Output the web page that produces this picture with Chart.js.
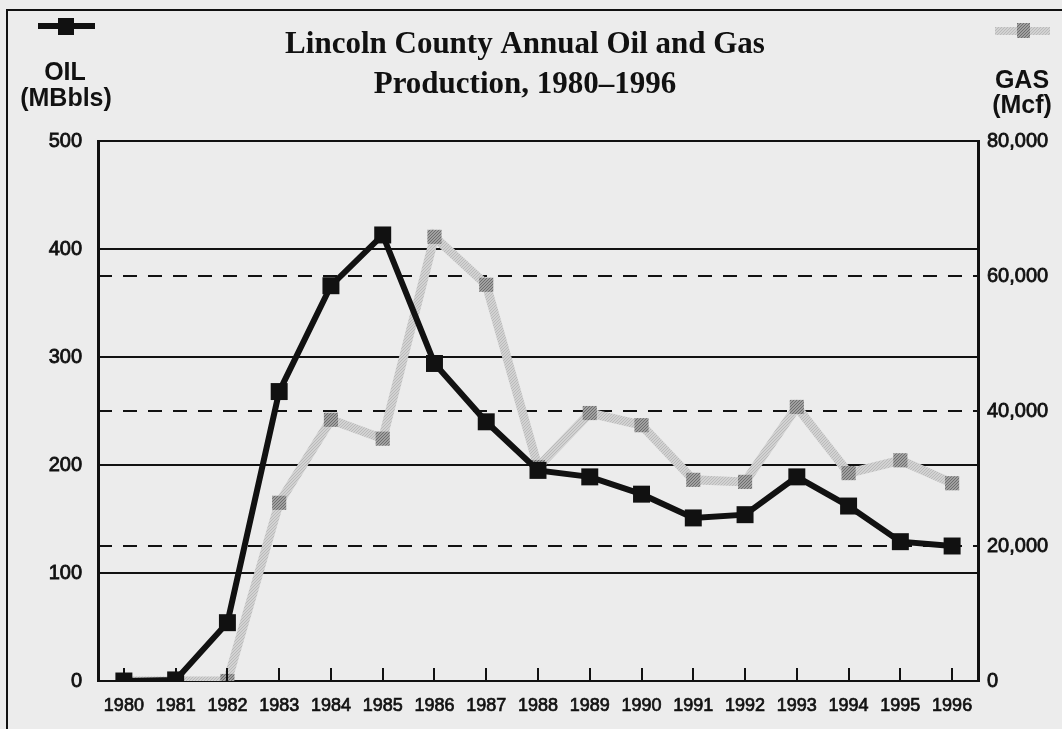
<!DOCTYPE html>
<html>
<head>
<meta charset="utf-8">
<script src="https://cdn.jsdelivr.net/npm/chart.js@4.4.1/dist/chart.umd.min.js"></script>
<style>
  html, body { margin: 0; padding: 0; background: #ececec; }
  #wrap { position: relative; width: 1062px; height: 729px; }
</style>
</head>
<body>
<div id="wrap"><canvas id="myChart" width="1062" height="729"></canvas></div>
<script>
// data
var years = ['1980','1981','1982','1983','1984','1985','1986','1987','1988',
             '1989','1990','1991','1992','1993','1994','1995','1996'];
var oilMBbls = [0, 1, 54, 268, 366, 413, 294, 240, 195, 189, 173, 151, 154, 189, 162, 129, 125];
var gasMcf = [0, 0, 0, 26400, 38700, 35900, 65800, 58700, 31700, 39700, 37900, 29800, 29500, 40600, 30800, 32700, 29300];
var oilTicks = [0, 100, 200, 300, 400, 500];
var gasTicks = [0, 20000, 40000, 60000, 80000];

var titleLines = ['Lincoln County Annual Oil and Gas', 'Production, 1980\u20131996'];

function hatch(bg, fg, size) {
    var c = document.createElement('canvas');
    c.width = size; c.height = size;
    var g = c.getContext('2d');
    g.fillStyle = bg;
    g.fillRect(0, 0, size, size);
    g.strokeStyle = fg;
    g.lineWidth = 1;
    g.beginPath();
    for (var i = -size; i <= size * 2; i += 3) {
        g.moveTo(i, size);
        g.lineTo(i + size, 0);
    }
    g.stroke();
    return g.createPattern(c, 'repeat');
}

var ctx = document.getElementById('myChart');
var gasLine = hatch('#d2d2d2', '#bababa', 12);
var gasMark = hatch('#a0a0a0', '#6e6e6e', 12);
var tickFont = '"Liberation Sans", Arial, sans-serif';

var decor = {
    id: 'decor',
    beforeDraw: function (chart) {
        var c = chart.ctx;
        c.save();
        c.fillStyle = '#ececec';
        c.fillRect(0, 0, chart.width, chart.height);
        c.restore();
    },
    afterDraw: function (chart) {
        var c = chart.ctx;
        var x = chart.scales.x;
        var area = chart.chartArea;
        c.save();
        // outer frame
        c.strokeStyle = '#111';
        c.lineWidth = 2;
        c.beginPath();
        c.moveTo(7, 740);
        c.lineTo(7, 10);
        c.lineTo(1070, 10);
        c.stroke();

        // inner ticks on x axis
        c.lineWidth = 2;
        c.beginPath();
        for (var i = 0; i < years.length; i++) {
            var px = Math.round(x.getPixelForValue(i));
            c.moveTo(px, area.bottom);
            c.lineTo(px, area.bottom - 13);
        }
        c.stroke();

        // title
        c.fillStyle = '#111';
        c.textAlign = 'center';
        c.textBaseline = 'alphabetic';
        c.font = 'bold 31px "Liberation Serif", serif';
        c.fillText(titleLines[0], 525, 53);
        c.fillText(titleLines[1], 525, 93);

        // axis titles
        c.font = 'bold 25px "Liberation Sans", Arial, sans-serif';
        c.fillText('OIL', 65, 80);
        c.fillText('(MBbls)', 66, 106);
        c.fillText('GAS', 1022, 88);
        c.fillText('(Mcf)', 1022, 113);

        // legend glyph: oil
        c.strokeStyle = '#111';
        c.lineWidth = 6;
        c.beginPath();
        c.moveTo(38, 26);
        c.lineTo(95, 26);
        c.stroke();
        c.fillStyle = '#111';
        c.fillRect(58, 18, 16, 17);

        // legend glyph: gas
        c.strokeStyle = gasLine;
        c.lineWidth = 8;
        c.beginPath();
        c.moveTo(995, 31);
        c.lineTo(1050, 31);
        c.stroke();
        c.fillStyle = gasMark;
        c.fillRect(1017, 23, 13, 15);
        c.restore();
    }
};

var myChart = new Chart(ctx, {
    type: 'line',
    data: {
        labels: years,
        datasets: [{
            label: 'OIL (MBbls)',
            data: oilMBbls,
            yAxisID: 'yOil',
            borderColor: '#111',
            backgroundColor: '#111',
            borderWidth: 6,
            pointStyle: 'rect',
            pointRadius: 12,
            pointBorderWidth: 0,
            tension: 0,
            order: 1
        }, {
            label: 'GAS (Mcf)',
            data: gasMcf,
            yAxisID: 'yGas',
            borderColor: gasLine,
            backgroundColor: gasMark,
            borderWidth: 9,
            pointStyle: 'rect',
            pointRadius: 10,
            pointBorderWidth: 0,
            tension: 0,
            order: 2
        }]
    },
    options: {
        responsive: false,
        animation: false,
        layout: { padding: { top: 141, left: 0, right: 0, bottom: 0 } },
        plugins: {
            legend: { display: false },
            title: { display: false },
            tooltip: { enabled: false }
        },
        scales: {
            x: {
                offset: true,
                grid: { display: false, drawTicks: false },
                border: { display: true, color: '#111', width: 2 },
                ticks: {
                    color: '#111',
                    textStrokeColor: '#111',
                    textStrokeWidth: 0.7,
                    padding: 14,
                    maxRotation: 0,
                    autoSkip: false,
                    font: { family: tickFont, size: 18 }
                },
                afterFit: function (s) { s.height = 48; }
            },
            yOil: {
                position: 'left',
                min: 0,
                max: 500,
                afterBuildTicks: function (s) { s.ticks = oilTicks.map(function (v) { return { value: v }; }); },
                grid: { color: '#111', lineWidth: 2, drawTicks: false },
                border: { display: true, color: '#111', width: 3 },
                ticks: {
                    color: '#111',
                    textStrokeColor: '#111',
                    textStrokeWidth: 0.8,
                    padding: 16,
                    font: { family: tickFont, size: 20 }
                },
                afterFit: function (s) { s.width = 98; }
            },
            yGas: {
                position: 'right',
                min: 0,
                max: 80000,
                afterBuildTicks: function (s) { s.ticks = gasTicks.map(function (v) { return { value: v }; }); },
                grid: {
                    color: function (c) {
                        var v = c.tick ? c.tick.value : 0;
                        return (v === 0 || v === 80000) ? 'rgba(0,0,0,0)' : '#111';
                    },
                    lineWidth: 2,
                    drawTicks: false
                },
                border: { display: true, color: '#111', width: 3, dash: [14, 11] },
                ticks: {
                    color: '#111',
                    textStrokeColor: '#111',
                    textStrokeWidth: 0.8,
                    padding: 9,
                    font: { family: tickFont, size: 20 },
                    callback: function (v) { return Number(v).toLocaleString('en-US'); }
                },
                afterFit: function (s) { s.width = 1062 - 978; }
            }
        }
    },
    plugins: [decor]
});
</script>
</body>
</html>
